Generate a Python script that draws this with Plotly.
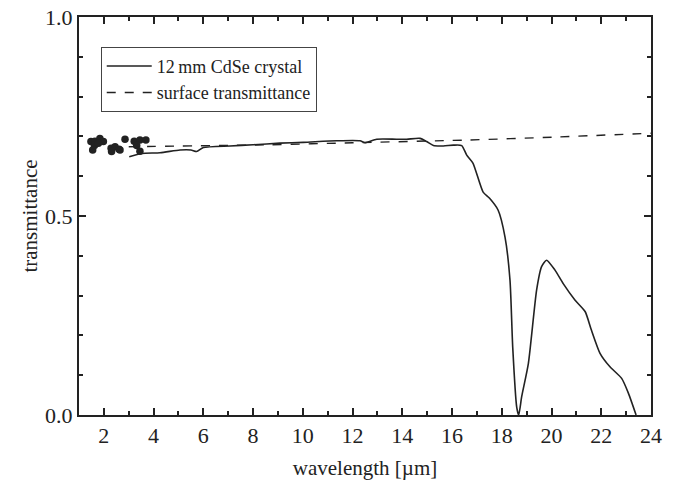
import plotly.graph_objects as go

# measured dots
dots_x = [1.48, 1.64, 1.84, 1.98, 1.62, 1.78, 1.55, 2.29, 2.45, 2.61, 2.31, 2.65, 2.85, 3.22, 3.45, 3.69, 3.32, 3.45]
dots_y = [0.687, 0.688, 0.695, 0.687, 0.677, 0.683, 0.666, 0.670, 0.674, 0.668, 0.662, 0.666, 0.693, 0.688, 0.691, 0.691, 0.677, 0.663]

# 12 mm CdSe crystal
crystal_x = [3.02, 3.52, 4.26, 5.06, 5.5, 5.73, 6.0, 7.07, 8.0, 9.08, 10.02, 11.36, 12.3, 12.5, 12.97, 13.77, 14.18, 14.71,
             14.98, 15.25, 15.65, 16.05, 16.39, 16.59, 16.84, 17.25, 17.5, 17.85, 18.13, 18.33, 18.44, 18.6, 18.68,
             18.8, 19.07, 19.4, 19.6, 19.8, 20.14, 20.47, 20.94, 21.35, 21.6, 21.95, 22.35, 22.82, 23.09, 23.4]
crystal_y = [0.649, 0.657, 0.659, 0.666, 0.666, 0.662, 0.672, 0.676, 0.679, 0.683, 0.685, 0.689, 0.689, 0.684, 0.693, 0.693, 0.693, 0.695,
             0.687, 0.677, 0.676, 0.678, 0.677, 0.653, 0.633, 0.56, 0.545, 0.515, 0.447, 0.339, 0.17, 0.02, 0.0,
             0.046, 0.13, 0.314, 0.373, 0.389, 0.364, 0.33, 0.289, 0.26, 0.214, 0.155, 0.121, 0.092, 0.055, 0.0]

# surface transmittance
surf_x = [3.0, 8.7, 12.0, 16.7, 20.0, 24.0]
surf_y = [0.674, 0.679, 0.684, 0.691, 0.698, 0.708]

font_family = "Liberation Serif"
ink = "#222222"

fig = go.Figure()
fig.add_trace(go.Scatter(x=dots_x, y=dots_y, mode="markers",
                         marker=dict(color=ink, size=7.5), showlegend=False))
fig.add_trace(go.Scatter(x=crystal_x, y=crystal_y, mode="lines", name="12\u2009mm CdSe crystal",
                         line=dict(color=ink, width=1.6, shape="spline", smoothing=0.6)))
fig.add_trace(go.Scatter(x=surf_x, y=surf_y, mode="lines", name="surface transmittance",
                         line=dict(color=ink, width=1.4, dash="dash", shape="spline", smoothing=0.6)))

axis_common = dict(showline=True, linecolor=ink, linewidth=2, mirror="allticks",
                   ticks="inside", ticklen=7, tickwidth=1.5, tickcolor=ink,
                   showgrid=False, zeroline=False, automargin=False,
                   tickfont=dict(family=font_family, size=22, color=ink),
                   title_font=dict(family=font_family, size=21, color=ink))

fig.update_xaxes(range=[1, 24], tickmode="array", tickvals=list(range(2, 25, 2)),
                 minor=dict(ticks="inside", ticklen=4, tickwidth=1.5, tickcolor=ink, dtick=1, tick0=1),
                 title_text="wavelength [\u00b5m]", title_standoff=13, **axis_common)
fig.update_yaxes(range=[0, 1], tickmode="array", tickvals=[0, 0.5, 1.0], ticktext=["0.0", "0.5", "1.0"],
                 minor=dict(ticks="inside", ticklen=4, tickwidth=1.5, tickcolor=ink, dtick=0.1, tick0=0),
                 title_text="transmittance", title_standoff=2, **axis_common)

fig.update_layout(width=677, height=483, margin=dict(l=79, r=26, t=17, b=68),
                  plot_bgcolor="white", paper_bgcolor="white",
                  font=dict(family=font_family, size=18, color=ink),
                  legend=dict(x=0.038, y=0.925, xanchor="left", yanchor="top",
                              bordercolor="#444444", borderwidth=1, bgcolor="white",
                              font=dict(family=font_family, size=18, color=ink),
                              itemwidth=45,
                              entrywidth=205, entrywidthmode="pixels",
                              tracegroupgap=0))

fig.write_html("out.html")
